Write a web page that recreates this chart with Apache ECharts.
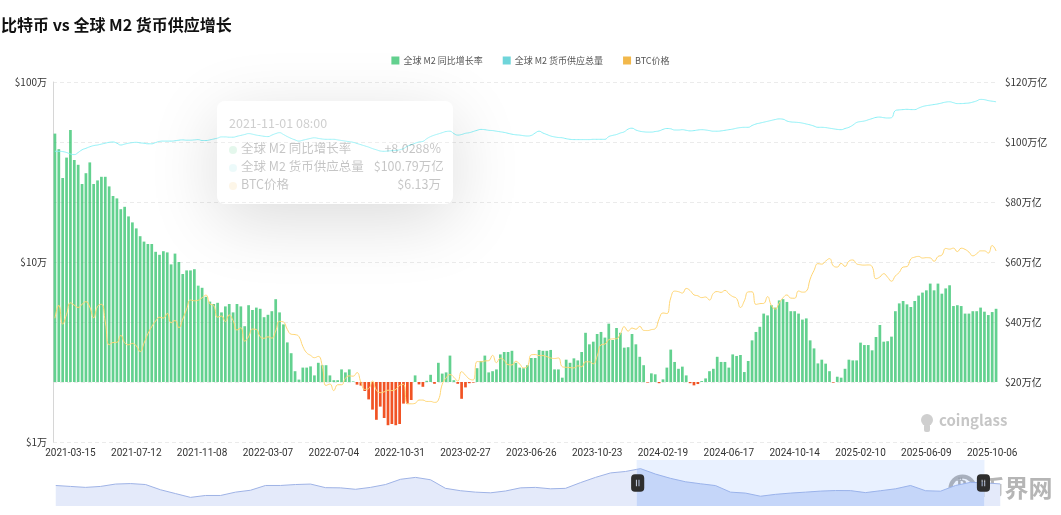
<!DOCTYPE html>
<html>
<head>
<meta charset="utf-8">
<script src="https://cdn.jsdelivr.net/npm/echarts@6/dist/echarts.min.js"></script>
<style>
html,body{margin:0;padding:0;background:#fff;}
#chart{width:1061px;height:515px;}
</style>
</head>
<body>
<div id="chart"></div>
<script>
// ---------- DATA ----------
const startDate = '2021-02-15';   // first weekly category (Monday)
const weekCount = 244;
const xLabels = ['2021-03-15','2021-07-12','2021-11-08','2022-03-07','2022-07-04','2022-10-31','2023-02-27','2023-06-26','2023-10-23','2024-02-19','2024-06-17','2024-10-14','2025-02-10','2025-06-09','2025-10-06'];

// Global M2 YoY growth (%)
const m2Yoy = [
20.7,19.4,17.0,18.7,21.0,18.5,18.1,16.5,17.4,18.3,
16.5,16.8,17.1,17.1,16.3,15.5,15.3,14.4,14.6,13.8,
13.3,12.8,12.15,11.7,11.5,11.5,10.85,10.6,10.9,10.8,
9.8,10.7,10.0,9.0,9.3,9.3,9.4,8.0288,7.85,7.1,
6.7,6.5,6.6,5.8,6.3,6.5,5.8,6.5,6.3,4.65,
6.4,6.0,6.2,6.1,5.4,5.6,5.9,6.9,5.8,4.8,
3.3,2.4,0.9,0.2,1.2,1.2,1.3,0.55,1.6,1.4,
1.4,0.55,0.15,0.15,1.05,0.8,1.05,0.05,-0.22,-0.3,
-0.75,-1.45,-2.3,-3.15,-2.05,-3.0,-3.6,-3.5,-3.6,-3.5,
-1.8,-1.8,-1.5,0.55,-0.2,-0.4,0.1,0.6,-0.15,1.6,
0.7,0.8,2.2,0.15,-0.15,-1.4,-0.45,-0.1,-0.05,1.15,
1.75,2.2,0.8,0.9,1.05,2.3,2.5,2.5,2.6,1.6,
1.2,1.15,1.4,2.0,2.0,2.67,2.6,2.6,2.67,1.05,
1.05,0.36,1.86,1.6,1.97,1.8,2.5,4.1,3.14,3.36,
4.0,4.17,3.7,4.86,3.5,4.5,4.1,2.86,2.9,4.0,
3.14,2.1,1.4,-0.05,0.72,0.64,-0.1,0.22,1.2,2.7,
1.67,1.1,1.28,0.55,-0.1,-0.28,-0.17,0.08,0.3,0.9,
1.1,2.1,1.67,1.67,1.2,2.3,2.17,2.25,0.83,1.75,
3.47,4.17,4.6,5.7,5.55,6.4,6.2,6.8,6.9,6.67,
5.9,5.9,5.7,5.2,5.3,3.47,2.8,1.55,1.86,1.53,
0.9,-0.05,0.44,0.36,1.1,1.86,1.8,1.8,3.28,3.08,
3.08,2.64,3.75,4.75,3.36,3.4,3.78,5.9,6.55,6.75,
6.47,6.25,6.75,7.2,7.45,7.64,8.2,7.64,8.2,7.36,
7.8,8.06,6.33,6.4,6.33,5.7,5.7,5.9,5.9,6.2,
5.86,5.58,5.83,6.1
];

// Global M2 money supply (万亿 USD)
const m2Total = [
96.9,96.9,96.8,96.5,96.0,95.8,96.5,97.4,97.9,98.4,
98.8,99.0,99.3,99.6,99.9,100.0,99.6,99.0,99.3,99.6,
99.8,99.9,99.7,99.6,99.4,99.4,99.8,100.2,100.3,100.3,
100.3,100.4,100.6,100.7,100.6,100.6,100.7,100.79,100.5,100.5,
100.7,101.0,101.3,101.7,101.7,101.6,101.6,101.9,102.2,102.5,
102.8,102.6,102.3,102.1,101.9,101.8,102.3,102.8,103.1,102.5,
101.8,101.2,100.7,100.3,100.6,100.9,101.2,101.4,101.2,101.0,
100.9,100.9,100.9,100.7,100.5,100.3,100.1,99.9,99.5,99.1,
98.7,98.3,97.8,97.4,97.0,96.9,97.0,97.1,97.2,97.4,
97.8,98.6,99.1,99.6,100.0,100.2,101.1,101.8,102.3,102.7,
103.1,103.5,103.6,102.8,102.3,102.5,102.9,103.1,103.5,103.9,
104.2,104.1,103.9,103.8,103.6,103.4,103.2,102.9,102.6,102.4,
102.3,102.1,102.0,102.2,103.0,103.6,103.0,102.5,102.0,101.7,
101.5,101.4,101.1,100.9,100.8,100.8,100.8,100.8,100.8,100.9,
100.9,100.9,100.9,101.8,102.2,102.5,103.0,103.4,104.3,104.6,
104.0,103.6,103.4,103.3,103.3,103.5,103.7,104.2,104.5,104.4,
104.0,104.0,104.1,103.9,103.7,103.8,104.0,104.1,104.0,103.8,
103.6,103.6,103.7,103.9,104.1,104.3,104.6,104.8,104.9,104.9,
105.5,106.0,106.3,106.6,106.9,107.2,107.5,107.7,107.6,107.0,
106.7,106.6,106.5,106.3,106.0,105.7,105.3,104.9,104.9,104.8,
104.6,104.4,104.2,104.1,104.5,104.9,105.6,106.5,106.8,107.0,
107.4,107.8,108.2,108.3,108.1,108.0,108.1,110.5,110.7,110.8,
110.9,110.8,110.8,111.3,111.8,112.1,112.3,112.5,112.7,113.0,
113.3,113.4,113.1,112.8,112.8,112.9,113.0,113.3,113.7,114.2,
114.1,113.8,113.6,113.4
];

// BTC price (USD)
const btcPrice = [
48717,57539,45137,51206,59302,57523,55950,58200,60200,56200,
49000,56600,58200,46400,34700,35700,35800,39100,35600,34700,
35300,34200,31800,35400,39900,43800,47000,49300,48800,51800,
46000,47300,43200,48200,54700,61500,60900,61318,63300,65500,
58600,57300,49400,50100,46700,50800,47300,41900,43100,36300,
38500,42400,42200,38400,37700,38400,37800,41300,46800,46400,
42200,39700,39500,38500,34000,31300,30300,29400,29900,26600,
20600,21000,19300,20800,20800,22600,23300,23200,24300,21500,
19600,19800,21800,19400,18800,19000,19400,19300,19600,20600,
20900,16300,16300,16400,17100,17100,16800,16800,16600,17100,
20900,22700,23700,22900,21800,24600,23500,22400,22100,28000,
27900,28200,28300,30300,27600,29200,28400,26900,26800,28100,
27100,25800,26300,30500,30600,30200,30200,29800,29300,29100,
29300,26200,26000,25900,25800,26500,26200,27900,27900,27200,
30000,34700,35000,37000,37400,37500,39900,43700,41300,43000,
42300,43900,41700,41600,42100,42600,48300,52100,51700,63100,
68900,68400,67200,71300,69400,65700,64900,63400,63900,61500,
66900,68500,67800,69600,66600,64300,62700,55900,60800,68200,
68300,58100,58700,58900,64200,57300,54800,59100,63300,65600,
63000,62900,69000,68000,68800,80400,89800,97900,97300,101200,
104400,95100,93700,98300,94500,101100,102600,97700,96500,96100,
96300,94200,80700,82600,86100,82300,78200,83700,87500,93700,
94300,104000,106400,107400,105200,105700,105400,100900,107300,109200,
119000,117900,119400,114200,119300,117500,113500,108200,111100,115300,
115300,112100,123500,115100
];

// Data-zoom overview shadow (relative level)
const overviewShadow = [
23.5,22.5,21.5,22.5,25,25.5,24.5,19,15,11,
13,13,16.5,18.5,23.5,23.5,24.5,25,21.2,21,
19.5,21.5,24.5,30,32,29.5,20.5,18,16.5,15.8,
17.7,21,21.5,20,20.5,26.5,32,36.7,38.2,41.2,
35.5,31,27.4,25.3,23.4,16.5,15.5,12.2,14.2,15.5,
16.5,17.6,18.2,18.1,16,18,20,23.5,18,17.5,
23.5,26.8,26.2,25.1
];

const seriesNames = ['全球 M2 同比增长率', '全球 M2 货币供应总量', 'BTC价格'];
const GREEN = '#32c36c', RED = '#f04a18', CYAN = '#6fd5da', ORANGE = '#f2b84b';

// ---------- BUILD ----------
function pad(n){return n<10?'0'+n:''+n;}
const categories = [];
(function(){
  const d0 = new Date(startDate + 'T00:00:00Z');
  for (let i = 0; i < weekCount; i++) {
    const d = new Date(d0.getTime() + i * 7 * 86400000);
    categories.push(d.getUTCFullYear() + '-' + pad(d.getUTCMonth()+1) + '-' + pad(d.getUTCDate()));
  }
})();

const FONT = '"Noto Sans CJK SC", "Noto Sans", Roboto, sans-serif';
const chart = echarts.init(document.getElementById('chart'), null, {renderer: 'canvas'});

function fmtWan(v){ return '$' + (v/10000).toFixed(2) + '万'; }

const option = {
  animation: false,
  textStyle: {fontFamily: FONT},
  title: {
    text: '比特币 vs 全球 M2 货币供应增长',
    left: 1, top: 17, padding: 0,
    textStyle: {fontSize: 16, fontWeight: 'bold', color: '#111', fontFamily: FONT}
  },
  legend: {
    data: seriesNames,
    top: 56, left: 'center', padding: 0,
    icon: 'rect', itemWidth: 8, itemHeight: 8, itemGap: 20,
    textStyle: {fontSize: 9, color: '#555', fontFamily: FONT, padding: [0, 0, 0, -1]}
  },
  tooltip: {
    trigger: 'axis',
    triggerOn: 'none',
    alwaysShowContent: true,
    transitionDuration: 0,
    axisPointer: {type: 'none'},
    backgroundColor: 'rgba(255,255,255,0.6)',
    borderWidth: 0,
    padding: [12, 12, 11, 12],
    position: function(){ return [217, 101]; },
    extraCssText: 'opacity:0.26;box-shadow:0 16px 70px rgba(0,0,0,0.55);border-radius:8px;width:212px;',
    formatter: function(params){
      const i = params[0].dataIndex;
      const v = m2Yoy[i];
      const rows = [
        [GREEN, seriesNames[0], (v >= 0 ? '+' : '') + v.toFixed(4) + '%'],
        [CYAN, seriesNames[1], '$' + m2Total[i].toFixed(2) + '万亿'],
        [ORANGE, seriesNames[2], fmtWan(btcPrice[i])]
      ];
      let h = '<div style="font-family:' + FONT.replace(/"/g,"'") + ';font-size:12.5px;color:#222;">';
      h += '<div style="line-height:20px;margin-bottom:6px;color:#444;">' + categories[i] + ' 08:00</div>';
      rows.forEach(function(r){
        h += '<div style="display:flex;justify-content:space-between;align-items:center;line-height:18px;white-space:nowrap;">' +
             '<span><span style="display:inline-block;width:8px;height:8px;border-radius:50%;background:' + r[0] + ';opacity:0.5;margin-right:4px;vertical-align:middle;"></span>' + r[1] + '</span>' +
             '<span style="margin-left:10px;">' + r[2] + '</span></div>';
      });
      h += '</div>';
      return h;
    }
  },
  grid: [
    {left: 53, right: 63, top: 82, bottom: 73},
    {left: 53, right: 63, top: 460, height: 46, show: false}
  ],
  xAxis: [
    {
      type: 'category', data: categories, gridIndex: 0,
      boundaryGap: true,
      axisLine: {show: false}, axisTick: {show: false},
      axisLabel: {
        interval: function(idx, val){ return xLabels.indexOf(val) >= 0; },
        fontSize: 10, color: '#333', margin: 6, fontFamily: 'Roboto, sans-serif'
      },
      splitLine: {show: false}
    },
    {
      type: 'category', gridIndex: 1, show: false,
      data: overviewShadow.map(function(_, i){ return i; }),
      boundaryGap: false
    }
  ],
  yAxis: [
    {
      type: 'log', logBase: 10, min: 10000, max: 1000000, position: 'left', gridIndex: 0,
      axisLine: {show: true, lineStyle: {color: '#d6d6d6'}},
      axisTick: {show: false},
      axisLabel: {fontSize: 10, color: '#333', margin: 6,
        formatter: function(v){ return '$' + Math.round(v/10000) + '万'; }},
      splitLine: {show: false}
    },
    {
      type: 'value', min: 0, max: 120, interval: 20, position: 'right', gridIndex: 0,
      axisLine: {show: false}, axisTick: {show: false},
      axisLabel: {fontSize: 10, color: '#333', margin: 7,
        formatter: function(v){ return v === 0 ? '' : '$' + v + '万亿'; }},
      splitLine: {show: true, lineStyle: {color: '#ebebeb', type: [4, 3]}}
    },
    {
      type: 'value', min: -5, max: 25, gridIndex: 0, show: false,
      splitLine: {show: false}
    },
    {
      type: 'value', gridIndex: 1, show: false
    }
  ],
  dataZoom: [{
    type: 'slider',
    xAxisIndex: 1,
    filterMode: 'none',
    left: 53, right: 63, top: 460, height: 46,
    start: 61.5, end: 98.3,
    showDetail: false,
    brushSelect: false,
    moveHandleSize: 0,
    borderColor: 'transparent',
    backgroundColor: 'transparent',
    fillerColor: 'rgba(135,175,274,0.18)',
    dataBackground: {
      lineStyle: {color: '#9fb3e6', width: 1, opacity: 1},
      areaStyle: {color: '#e4eafa', opacity: 1}
    },
    selectedDataBackground: {
      lineStyle: {color: '#9fb3e6', width: 1, opacity: 1},
      areaStyle: {color: '#d3def8', opacity: 1}
    },
    handleIcon: 'path://M3.5,0 H8.5 A3.5,3.5 0 0 1 12,3.5 V12.5 A3.5,3.5 0 0 1 8.5,16 H3.5 A3.5,3.5 0 0 1 0,12.5 V3.5 A3.5,3.5 0 0 1 3.5,0 Z M4.4,5 V11 H5.2 V5 Z M6.8,5 V11 H7.6 V5 Z',
    handleSize: '38%',
    handleStyle: {color: '#2e2e2e', borderColor: '#2e2e2e', borderWidth: 0}
  }],
  series: [
    {
      name: seriesNames[0], type: 'bar', xAxisIndex: 0, yAxisIndex: 2,
      barWidth: '70%',
      itemStyle: {color: GREEN, opacity: 0.76},
      data: m2Yoy.map(function(v){ return v < 0 ? {value: v, itemStyle: {color: RED, opacity: 0.95}} : v; }),
      z: 2
    },
    {
      name: seriesNames[1], type: 'line', xAxisIndex: 0, yAxisIndex: 1,
      data: m2Total, smooth: true, showSymbol: false, symbol: 'none',
      lineStyle: {color: '#80dbe0', width: 1}, itemStyle: {color: CYAN},
      z: 6
    },
    {
      name: seriesNames[2], type: 'line', xAxisIndex: 0, yAxisIndex: 0,
      data: btcPrice, smooth: true, showSymbol: false, symbol: 'none',
      lineStyle: {color: '#f3c268', width: 1}, itemStyle: {color: ORANGE},
      z: 3
    },
    {
      name: 'overview', type: 'line', xAxisIndex: 1, yAxisIndex: 3,
      data: overviewShadow, symbol: 'none', silent: true,
      lineStyle: {opacity: 0}, tooltip: {show: false}
    }
  ],
  graphic: [
    {
      type: 'group', left: 921, top: 413, silent: true,
      children: [
        {type: 'circle', shape: {cx: 6, cy: 8, r: 6}, style: {fill: '#cfcfcf'}},
        {type: 'rect', shape: {x: 3, y: 12, width: 6, height: 8, r: 2}, style: {fill: '#cfcfcf'}},
        {type: 'text', x: 18, y: 1, style: {text: 'coinglass', fontSize: 15, fontWeight: 'bold', fill: '#c6c6c6', fontFamily: FONT}}
      ]
    },
    {
      type: 'group', left: 948, top: 474, silent: true,
      children: [
        {type: 'circle', shape: {cx: 14, cy: 14, r: 12}, style: {fill: 'none', stroke: 'rgba(150,150,150,0.75)', lineWidth: 4}},
        {type: 'text', x: 8, y: 4, style: {text: '₿', fontSize: 16, fontWeight: 'bold', fill: 'rgba(150,150,150,0.8)', fontFamily: 'DejaVu Sans'}},
        {type: 'text', x: 32, y: 1, style: {text: '币界网', fontSize: 24, fontWeight: 'bold', fill: 'rgba(150,150,150,0.7)', fontFamily: FONT}}
      ]
    }
  ]
};

chart.setOption(option);
chart.dispatchAction({type: 'showTip', seriesIndex: 0, dataIndex: 37});
</script>
</body>
</html>
